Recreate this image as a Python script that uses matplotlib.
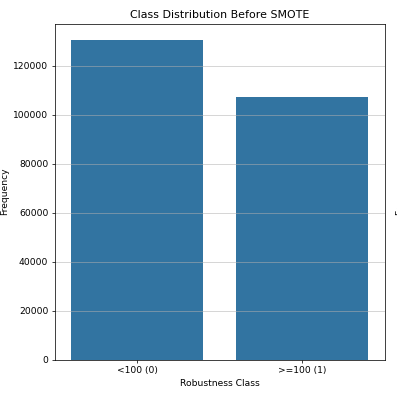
import matplotlib
matplotlib.use('Agg')
import matplotlib.pyplot as plt

# 데이터
classes = ['<100 (0)', '>=100 (1)']
counts = [130800, 107200]
yticks = [0, 20000, 40000, 60000, 80000, 100000, 120000]

dpi = 66
fig = plt.figure(figsize=(397 / dpi, 393 / dpi), dpi=dpi)
ax = fig.add_axes([0.1378, 0.0847, 0.9698 - 0.1378, 0.9402 - 0.0847])

ax.bar(range(len(classes)), counts, width=0.8, color='#3274a1')
ax.set_xticks(range(len(classes)))
ax.set_xticklabels(classes)
ax.set_yticks(yticks)
ax.set_xlim(-0.5, 1.5)
ax.set_ylim(0, max(counts) * 1.05)
ax.grid(axis='y', alpha=0.7)

ax.set_title('Class Distribution Before SMOTE')
ax.set_xlabel('Robustness Class')
ax.set_ylabel('Frequency')

# 오른쪽 서브플롯의 잘린 y 라벨
fig.text(395.5 / 397, 0.5125, 'Frequency', rotation=90, ha='left', va='center')

fig.savefig('out.png', dpi=dpi)
